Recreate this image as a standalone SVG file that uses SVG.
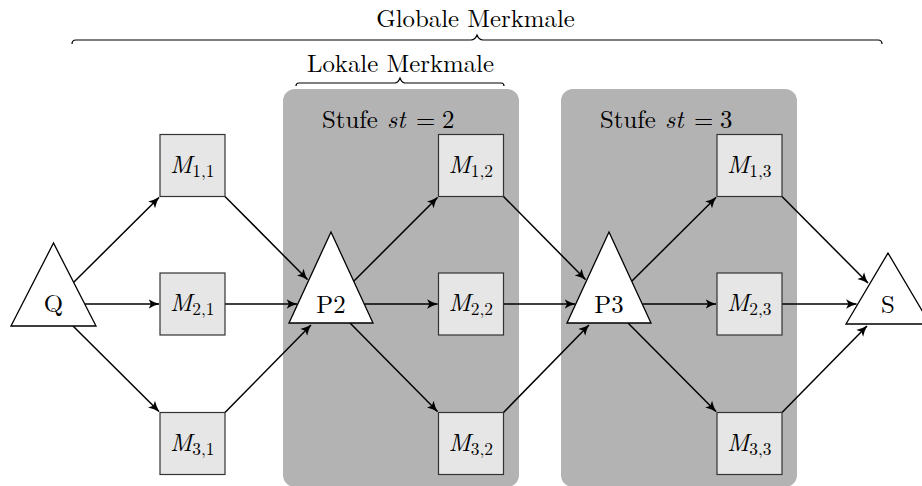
<svg xmlns="http://www.w3.org/2000/svg" width="922" height="486" viewBox="0 0 922 486">
<style>
.it{font-style:italic}
.panel{fill:#b3b3b3}
.box{fill:#e6e6e6;stroke:#333;stroke-width:1.2}
.tri{fill:#fff;stroke:#000;stroke-width:1.3;stroke-linejoin:miter}
.edge{stroke:#000;stroke-width:1.5;fill:none;marker-end:url(#ah)}
.brace{stroke:#000;stroke-width:1.2;fill:none}
</style>
<defs>
<marker id="ah" markerUnits="userSpaceOnUse" viewBox="0 0 10 10" refX="9.5" refY="5" markerWidth="11" markerHeight="11" orient="auto">
<path d="M0,0.6 Q4.5,3.6 10,5 Q4.5,6.4 0,9.4 L2.2,5 Z" fill="#000"/>
</marker>
</defs>
<rect width="922" height="486" fill="#fff"/>
<g font-family="Latin Modern Roman, Liberation Serif, serif" font-size="24.8" fill="#000">
<g id="panel2">
<rect class="panel" x="283" y="89" width="236" height="398" rx="12"/>
<text y="128"><tspan x="322">Stufe</tspan><tspan x="387" class="it">st</tspan><tspan x="416">=</tspan><tspan x="442">2</tspan></text>
</g>
<g id="panel3">
<rect class="panel" x="561" y="89" width="236" height="398" rx="12"/>
<text y="128"><tspan x="600">Stufe</tspan><tspan x="665" class="it">st</tspan><tspan x="694">=</tspan><tspan x="720">3</tspan></text>
</g>
<g id="global">
<path class="brace" d="M72,44 Q72,40 76,40 L471,40 Q475,40 477,35 Q479,40 483,40 L878,40 Q882,40 882,44"/>
<text x="475.5" y="27" text-anchor="middle">Globale Merkmale</text>
</g>
<g id="lokal">
<path class="brace" d="M296,86 Q296,83 299,83 L395,83 Q398,83 400,78 Q402,83 405,83 L501,83 Q504,83 504,86"/>
<text x="400.5" y="72" text-anchor="middle">Lokale Merkmale</text>
</g>
<g id="connectors">
<line class="edge" x1="73.7" y1="282.3" x2="159" y2="197.5"/>
<line class="edge" x1="85" y1="304" x2="159" y2="304"/>
<line class="edge" x1="73" y1="326" x2="159" y2="411.5"/>
<line class="edge" x1="225" y1="196.5" x2="307.5" y2="279.5"/>
<line class="edge" x1="225" y1="304" x2="297" y2="304"/>
<line class="edge" x1="225" y1="412.5" x2="311" y2="325"/>
<line class="edge" x1="353.7" y1="281.3" x2="437.5" y2="197.5"/>
<line class="edge" x1="364.5" y1="304" x2="437.5" y2="304"/>
<line class="edge" x1="350" y1="323" x2="437.5" y2="411.5"/>
<line class="edge" x1="503.5" y1="196.5" x2="585.5" y2="279.5"/>
<line class="edge" x1="503.5" y1="304" x2="575" y2="304"/>
<line class="edge" x1="503.5" y1="412.5" x2="589" y2="325"/>
<line class="edge" x1="631.7" y1="281.3" x2="716" y2="197.5"/>
<line class="edge" x1="642.5" y1="304" x2="716" y2="304"/>
<line class="edge" x1="628" y1="323" x2="716" y2="411.5"/>
<line class="edge" x1="782" y1="196.5" x2="868" y2="283"/>
<line class="edge" x1="782" y1="304" x2="856.5" y2="304"/>
<line class="edge" x1="782" y1="412.5" x2="867" y2="326"/>
</g>
<g id="Q">
<polygon class="tri" points="11,326 53.5,243 96,326"/>
<text x="53.5" y="312" text-anchor="middle">Q</text>
</g>
<g id="P2">
<polygon class="tri" points="289,323 331,232 373,323"/>
<text x="331" y="313" text-anchor="middle">P2</text>
</g>
<g id="P3">
<polygon class="tri" points="567,323 609,232 651,323"/>
<text x="609" y="313" text-anchor="middle">P3</text>
</g>
<g id="S">
<polygon class="tri" points="846,324 888,253 930,324"/>
<text x="888" y="313" text-anchor="middle">S</text>
</g>
<g id="M11">
<rect class="box" x="160" y="134.5" width="65" height="62"/>
<text x="170" y="172.5"><tspan class="it">M</tspan><tspan font-size="17.4" dy="4">1,1</tspan></text>
</g>
<g id="M21">
<rect class="box" x="160" y="273" width="65" height="62"/>
<text x="170" y="311"><tspan class="it">M</tspan><tspan font-size="17.4" dy="4">2,1</tspan></text>
</g>
<g id="M31">
<rect class="box" x="160" y="412.5" width="65" height="62"/>
<text x="170" y="450.5"><tspan class="it">M</tspan><tspan font-size="17.4" dy="4">3,1</tspan></text>
</g>
<g id="M12">
<rect class="box" x="438.5" y="134.5" width="65" height="62"/>
<text x="448.5" y="172.5"><tspan class="it">M</tspan><tspan font-size="17.4" dy="4">1,2</tspan></text>
</g>
<g id="M22">
<rect class="box" x="438.5" y="273" width="65" height="62"/>
<text x="448.5" y="311"><tspan class="it">M</tspan><tspan font-size="17.4" dy="4">2,2</tspan></text>
</g>
<g id="M32">
<rect class="box" x="438.5" y="412.5" width="65" height="62"/>
<text x="448.5" y="450.5"><tspan class="it">M</tspan><tspan font-size="17.4" dy="4">3,2</tspan></text>
</g>
<g id="M13">
<rect class="box" x="717" y="134.5" width="65" height="62"/>
<text x="727" y="172.5"><tspan class="it">M</tspan><tspan font-size="17.4" dy="4">1,3</tspan></text>
</g>
<g id="M23">
<rect class="box" x="717" y="273" width="65" height="62"/>
<text x="727" y="311"><tspan class="it">M</tspan><tspan font-size="17.4" dy="4">2,3</tspan></text>
</g>
<g id="M33">
<rect class="box" x="717" y="412.5" width="65" height="62"/>
<text x="727" y="450.5"><tspan class="it">M</tspan><tspan font-size="17.4" dy="4">3,3</tspan></text>
</g>
</g>
</svg>
